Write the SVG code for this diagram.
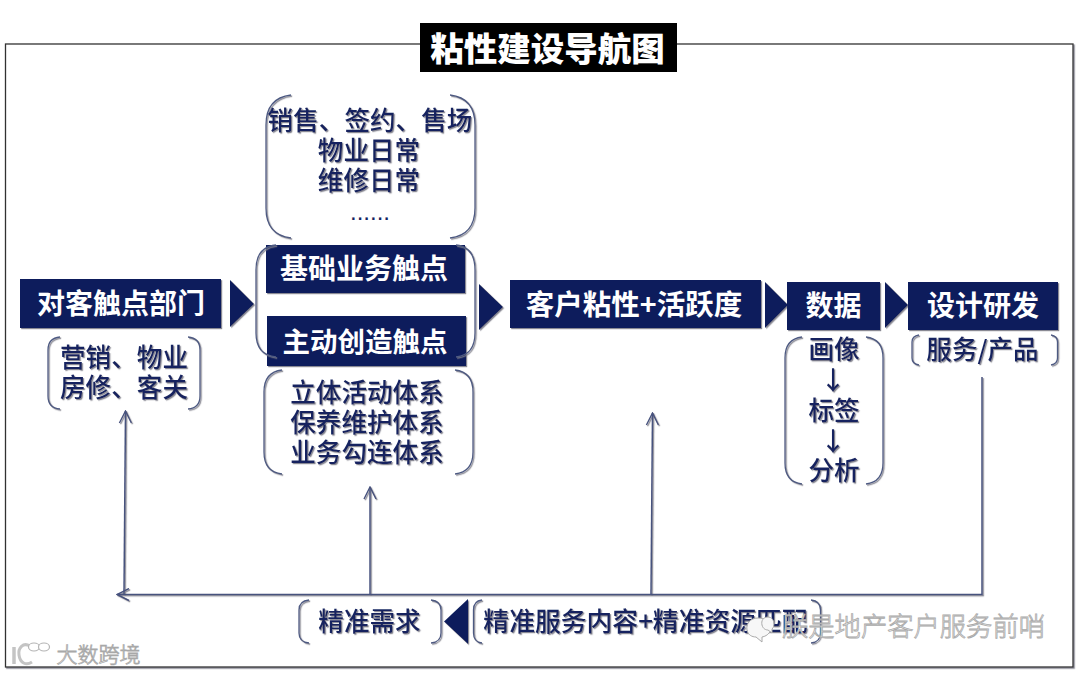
<svg xmlns="http://www.w3.org/2000/svg" width="1080" height="674" viewBox="0 0 1080 674">
<defs>
<filter id="sh" filterUnits="userSpaceOnUse" x="0" y="0" width="1080" height="674"><feDropShadow dx="1.2" dy="1.2" stdDeviation="0.7" flood-color="#7d7d88" flood-opacity="0.9"/></filter>
<marker id="open" viewBox="0 0 14 14" refX="13" refY="7" markerWidth="14" markerHeight="14" markerUnits="userSpaceOnUse" orient="auto"><path d="M1 1 L13 7 L1 13" fill="none" stroke="#47527e" stroke-width="1.4"/></marker>
</defs>
<style>
text{font-family:"Noto Sans CJK SC","Liberation Sans",sans-serif;text-anchor:middle}
.box{fill:#0c1f5c;filter:url(#sh)}
.tri{fill:#0c1f5c}
.w{fill:#fff;font-weight:700;font-size:28px}
.n{fill:#14235f;font-weight:500;font-size:25.6px;filter:url(#sh)}
.br{fill:none;stroke:#4e5a82;stroke-width:1.3;filter:url(#sh)}
.ln{fill:none;stroke:#47527e;stroke-width:1.5}
.wm{fill:#fff;stroke:#a8a8a8;stroke-width:0.8;font-weight:300}
</style>
<rect x="5.5" y="44" width="1067.5" height="623" fill="#fff" stroke="#333" stroke-width="1.3" filter="url(#sh)"/>
<g id="connectors" filter="url(#sh)">
<path class="ln" d="M982 377V594.5H117" marker-end="url(#open)"/>
<path class="ln" d="M124 594L125.500 411" marker-end="url(#open)"/>
<path class="ln" d="M370 594V487" marker-end="url(#open)"/>
<path class="ln" d="M651 594L652.500 413" marker-end="url(#open)"/>
<polygon class="tri" points="230,280 254,304 230,327"/>
<polygon class="tri" points="479,284 503,307 479,330"/>
<polygon class="tri" points="765,282 788,305 765,328"/>
<polygon class="tri" points="885,282 908,305 885,328"/>
<polygon class="tri" points="468,599 444,621.500 468,644"/>
</g>
<g id="title"><rect x="420" y="23" width="257" height="49" fill="#000"/><text x="547.500" y="61" fill="#fff" font-size="33.500" font-weight="900">粘性建设导航图</text></g>
<g id="dept"><rect class="box" x="20" y="279" width="201" height="49"/><text class="w" x="121" y="314">对客触点部门</text></g>
<g id="dept-list"><path class="br" d="M60 337Q48 338 48 350V396Q48 408 60 409M188 337Q200 338 200 350V396Q200 408 188 409"/><text class="n" x="124" y="367">营销、物业</text><text class="n" x="124" y="397">房修、客关</text></g>
<g id="daily-list"><path class="br" d="M291 95Q266 98 266 125V208Q266 235 291 238M450 95Q475 98 475 125V208Q475 235 450 238"/><text class="n" x="370" y="130">销售、签约、售场</text><text class="n" x="369" y="160">物业日常</text><text class="n" x="369" y="190">维修日常</text><text x="370" y="220" fill="#14235f" font-size="24" style="font-family:'Liberation Sans',sans-serif">......</text></g>
<g id="basic"><rect class="box" x="266" y="245" width="199" height="48"/><text class="w" x="364" y="279">基础业务触点</text></g>
<g id="active"><rect class="box" x="267" y="316" width="199" height="50"/><text class="w" x="365" y="352" style="font-size:27.5px">主动创造触点</text></g>
<g id="touch-bracket"><path class="br" d="M276 245Q256 247 256 270V333Q256 355 276 357M456 245Q475 247 475 270V333Q475 355 456 357"/></g>
<g id="system-list"><path class="br" d="M282 370Q264 372 264 392V452Q264 472 282 474M455 370Q473 372 473 392V452Q473 472 455 474"/><text class="n" x="367" y="402">立体活动体系</text><text class="n" x="367" y="432">保养维护体系</text><text class="n" x="367" y="462">业务勾连体系</text></g>
<g id="stickiness"><rect class="box" x="510" y="280" width="251" height="48"/><text class="w" x="634" y="315" style="font-size:28.500px">客户粘性+活跃度</text></g>
<g id="data"><rect class="box" x="787" y="282" width="93" height="48"/><text class="w" x="833.500" y="316">数据</text></g>
<g id="data-list"><path class="br" d="M802 337Q785 339 785 358V463Q785 482 802 484M866 337Q883 339 883 358V463Q883 482 866 484"/><text class="n" x="834" y="359">画像</text><text class="n" x="833" y="390">↓</text><text class="n" x="834" y="420">标签</text><text class="n" x="833" y="451">↓</text><text class="n" x="834" y="480">分析</text></g>
<g id="rd"><rect class="box" x="908" y="282" width="150" height="48"/><text class="w" x="983" y="316">设计研发</text></g>
<g id="rd-list"><path class="br" d="M919 335Q912 336 912 342V358Q912 364 919 365M1051 335Q1057.500 336 1057.500 342V358Q1057.500 364 1051 365"/><text class="n" x="982.500" y="359">服务/产品</text></g>
<g id="need"><path class="br" d="M309 600Q299 601 299 610V633Q299 642 309 643M431 600Q441 601 441 610V633Q441 642 431 643"/><text class="n" x="369.500" y="631">精准需求</text></g>
<g id="match"><path class="br" d="M482 600Q473.500 601 473.500 610V633Q473.500 642 482 643M811 600Q820.500 601 820.500 610V633Q820.500 642 811 643"/><text class="n" x="645.500" y="631" style="font-size:25.800px">精准服务内容+精准资源匹配</text></g>
<g id="watermark-right"><path d="M758 618C750 618 746 624 747 630C748 635 752 637 756 637L762 642L762 637C768 636 772 631 771 626C770 621 765 618 758 618Z" fill="#f7f7f7" stroke="#aaa"/><path d="M768 617C763 617 761 621 762 625C763 629 766 630 768 630L772 633L772 629C775 627 775 617 768 617Z" fill="#f7f7f7" stroke="#aaa"/><text class="wm" x="913.500" y="636" font-size="26.300">朕是地产客户服务前哨</text></g>
<g id="watermark-left"><text class="wm" x="98.500" y="662" font-size="21">大数跨境</text><path d="M14 647V664" fill="none" stroke="#c4c4c4" stroke-width="3.500"/><path d="M30 646C23 642 18 648 19 655C20 663 26 666 32 662" fill="none" stroke="#c4c4c4" stroke-width="3"/><ellipse cx="34" cy="647" rx="5.500" ry="4" fill="#fff" stroke="#b4b4b4" stroke-width="1.200"/><ellipse cx="44" cy="647" rx="5.500" ry="4" fill="#fff" stroke="#b4b4b4" stroke-width="1.200"/></g>
</svg>
